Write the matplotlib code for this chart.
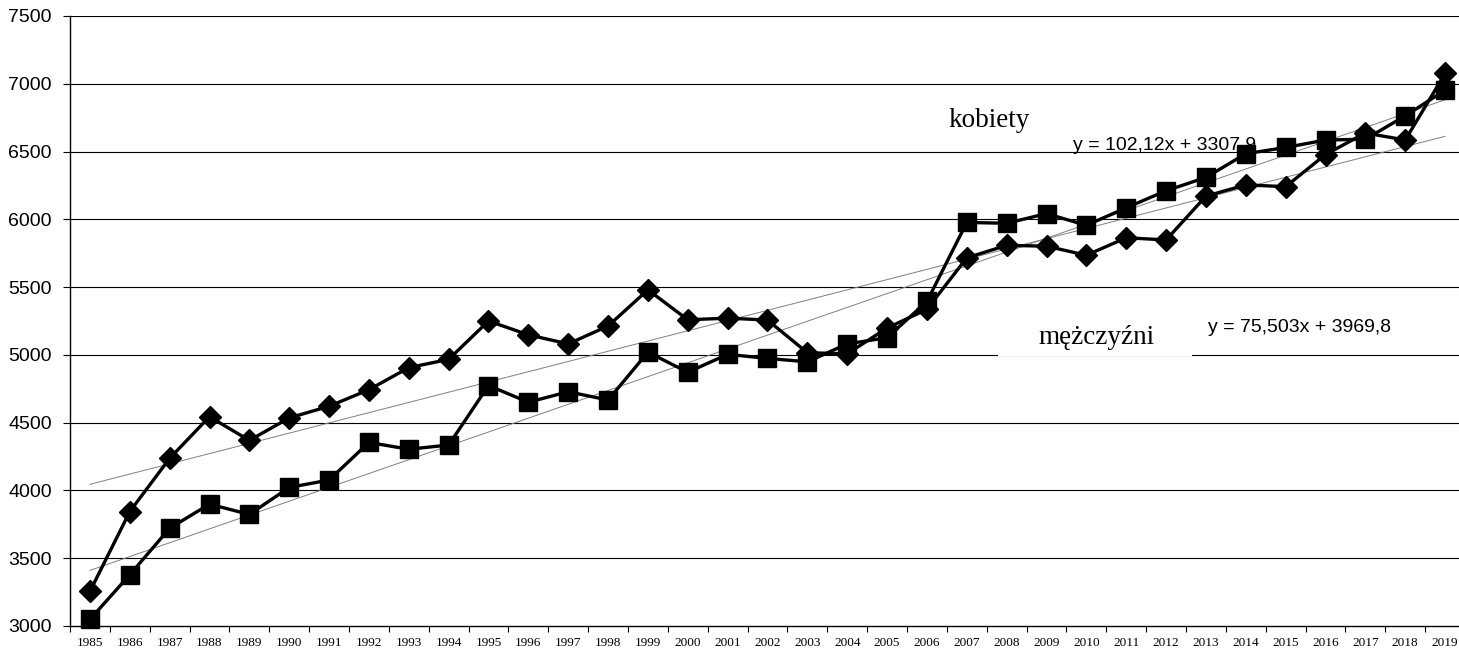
"""
Wykres: kobiety / mężczyźni 1985-2019 z liniami trendu
"""
import numpy as np
import matplotlib.pyplot as plt
import matplotlib
from matplotlib.patches import Rectangle
from matplotlib.ticker import FixedLocator, NullFormatter

matplotlib.rcParams['font.family'] = ['Liberation Sans', 'DejaVu Sans']

years = list(range(1985, 2020))

# seria z kwadratami
kwadraty = [3049, 3378, 3721, 3899, 3823, 4022, 4077, 4354, 4304, 4335,
            4774, 4651, 4728, 4667, 5020, 4872, 5004, 4974, 4949, 5081,
            5127, 5394, 5977, 5971, 6042, 5956, 6085, 6211, 6309, 6484,
            6530, 6585, 6591, 6763, 6953]
# seria z rombami
romby = [3255, 3844, 4237, 4544, 4369, 4535, 4621, 4743, 4906, 4967,
         5250, 5148, 5081, 5213, 5480, 5259, 5271, 5257, 5016, 5008,
         5198, 5336, 5716, 5808, 5802, 5735, 5864, 5848, 6171, 6254,
         6241, 6478, 6637, 6585, 7076]

# równania trendu (z opisu na wykresie)
trend_kw = (102.12, 3307.9)
trend_ro = (75.503, 3969.8)

yticks = list(range(3000, 7501, 500))

fig = plt.figure(figsize=(14.59, 6.49), dpi=100)
ax = fig.add_axes([70/1459, 1-626/649, 1395/1459, 610/649])

x = np.arange(1, len(years) + 1)

ax.set_xlim(0.5, len(years) + 0.5)
ax.set_ylim(3000, 7500)

# siatka pozioma
for yv in yticks[1:]:
    ax.axhline(yv, color='black', linewidth=0.8, zorder=0.5)

# linie trendu
for a, b in (trend_kw, trend_ro):
    ax.plot(x, a * x + b, color='#808080', linewidth=0.7, zorder=2)

ax.plot(x, kwadraty, color='black', linewidth=2.4, marker='s', markersize=12.5,
        markerfacecolor='black', markeredgecolor='black', zorder=4, clip_on=False)
ax.plot(x, romby, color='black', linewidth=2.4, marker='D', markersize=11,
        markerfacecolor='black', markeredgecolor='black', zorder=4, clip_on=False)

# biały prostokąt pod napisem "mężczyźni" (zasłania siatkę)
ax.add_patch(Rectangle((23.78, 4990), 4.87, 250, facecolor='white',
                       edgecolor='none', zorder=1.5))

ax.text(22.53, 6681, 'kobiety', family=['Liberation Serif', 'DejaVu Serif'],
        fontsize=19.5, va='baseline', ha='left', zorder=3)
ax.text(24.79, 5080, 'mężczyźni', family=['Liberation Serif', 'DejaVu Serif'],
        fontsize=19.5, va='baseline', ha='left', zorder=3)
ax.text(25.66, 6511, 'y = 102,12x + 3307,9', fontsize=14,
        va='baseline', ha='left', zorder=3)
ax.text(29.05, 5169, 'y = 75,503x + 3969,8', fontsize=14,
        va='baseline', ha='left', zorder=3)

# osie
for s in ('top', 'right'):
    ax.spines[s].set_visible(False)
ax.spines['left'].set_linewidth(1.0)
ax.spines['bottom'].set_linewidth(1.0)

ax.set_yticks(yticks)
ax.set_yticklabels([str(v) for v in yticks], fontsize=14)
ax.tick_params(axis='y', direction='out', length=5, width=0.8, pad=8)

ax.xaxis.set_major_locator(FixedLocator(np.arange(0.5, len(years) + 1, 1.0)))
ax.xaxis.set_major_formatter(NullFormatter())
ax.set_xticks(x, minor=True)
ax.set_xticklabels([str(y) for y in years], minor=True, fontsize=9.5,
                   family=['Liberation Serif', 'DejaVu Serif'])
ax.tick_params(axis='x', which='major', direction='out', length=4, width=0.8)
ax.tick_params(axis='x', which='minor', length=0, pad=8)

fig.savefig('out.png', dpi=100)
